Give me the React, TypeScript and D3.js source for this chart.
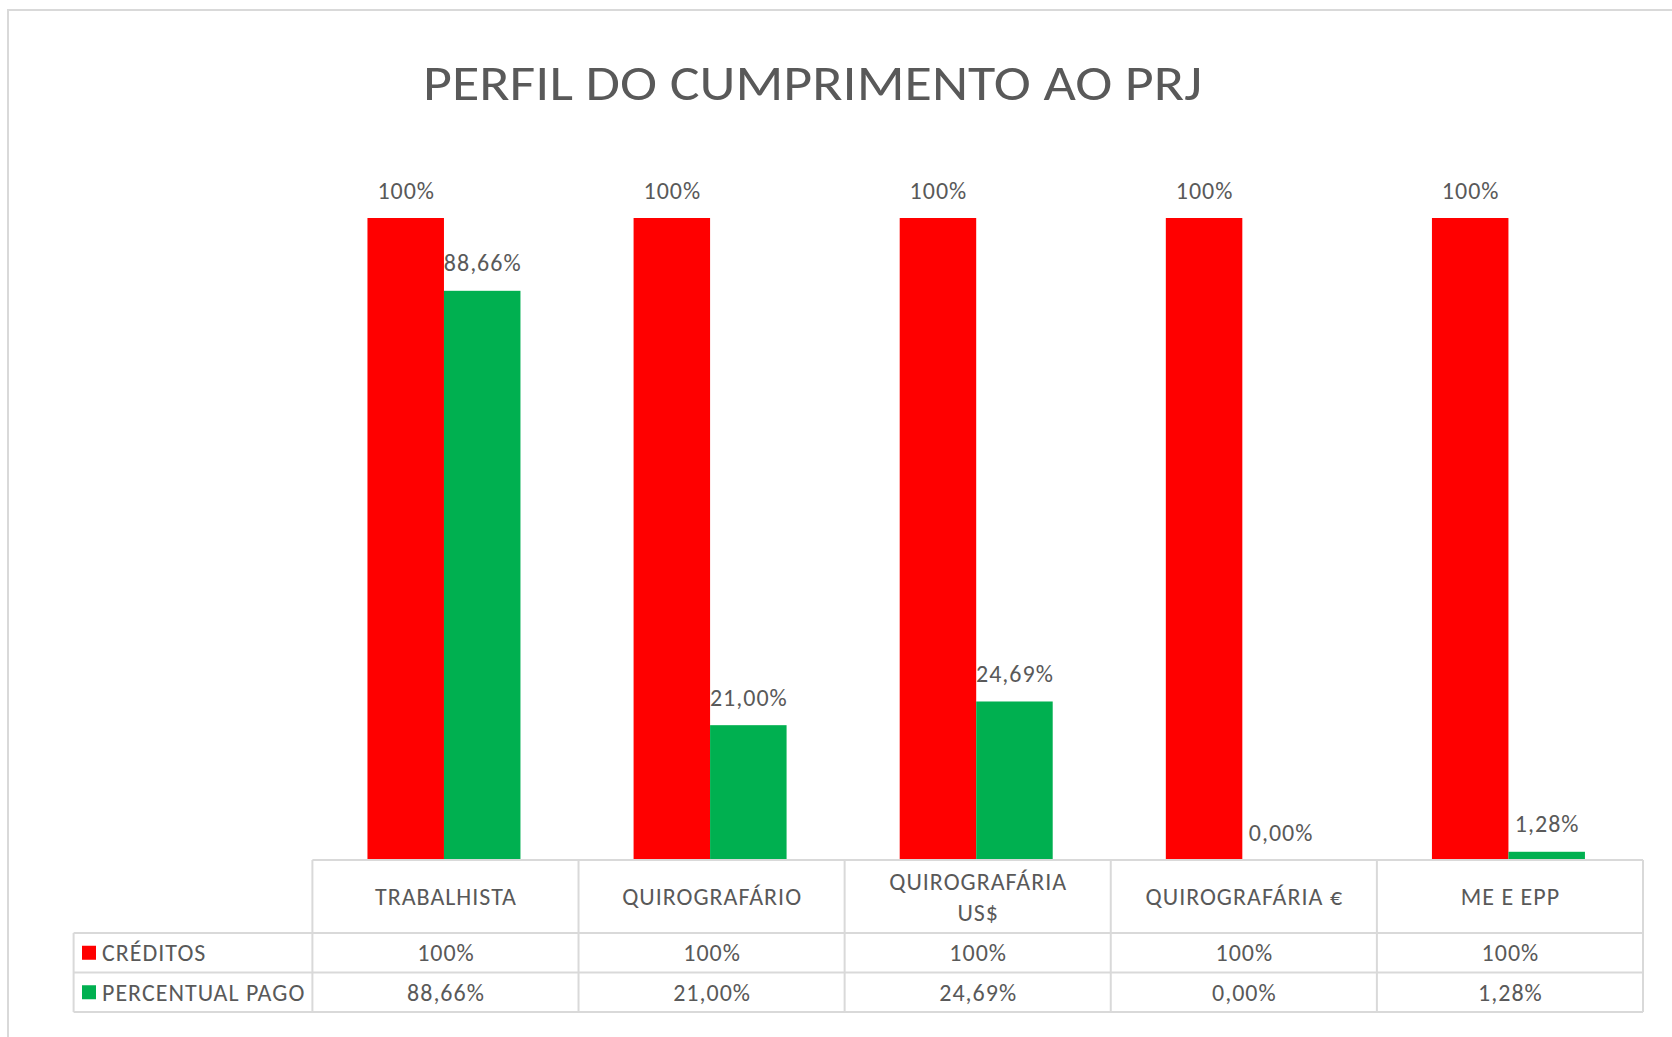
import * as d3 from "d3";
import { useEffect, useRef } from "react";

const title = "PERFIL DO CUMPRIMENTO AO PRJ";
const categories = ["TRABALHISTA", "QUIROGRAFÁRIO", "QUIROGRAFÁRIA US$", "QUIROGRAFÁRIA €", "ME E EPP"];
const headerLines = [["TRABALHISTA"], ["QUIROGRAFÁRIO"], ["QUIROGRAFÁRIA", "US$"], ["QUIROGRAFÁRIA €"], ["ME E EPP"]];
const seriesNames = ["CRÉDITOS", "PERCENTUAL PAGO"];
const seriesColors = ["#ff0000", "#00b050"];
const creditos = [1, 1, 1, 1, 1];
const percentualPago = [0.8866, 0.21, 0.2469, 0, 0.0128];
const creditosLabels = ["100%", "100%", "100%", "100%", "100%"];
const pagoLabels = ["88,66%", "21,00%", "24,69%", "0,00%", "1,28%"];

type Bar = {
  category: string;
  series: string;
  value: number;
  label: string;
  color: string;
};

const FONT = "Carlito, Calibri, Lato, sans-serif";
const TEXT = "#595959";
const GRID = "#d9d9d9";
const SIZE = 24;
const SPACING = 1;

export default function App() {
  const svgRef = useRef<SVGSVGElement | null>(null);

  useEffect(() => {
    if (!svgRef.current) return;
    const svg = d3.select(svgRef.current);
    svg.selectAll("*").remove();

    const width = 1672;
    const height = 1037;
    const plot = { left: 312.4, right: 1643, top: 218, bottom: 860 };
    const headerH = 73;
    const rowH = 39.5;
    const legendLeft = 73.6;

    svg.attr("viewBox", `0 0 ${width} ${height}`);

    // chart frame
    svg
      .append("rect")
      .attr("x", 8)
      .attr("y", 10)
      .attr("width", width + 10)
      .attr("height", height + 10)
      .attr("fill", "#ffffff")
      .attr("stroke", GRID)
      .attr("stroke-width", 2);

    svg
      .append("text")
      .attr("x", 423)
      .attr("y", 100)
      .attr("font-family", FONT)
      .attr("font-size", 50)
      .attr("fill", TEXT)
      .attr("textLength", 779)
      .attr("lengthAdjust", "spacingAndGlyphs")
      .text(title);

    const x = d3.scaleBand<string>().domain(categories).range([plot.left, plot.right]);
    const inner = d3
      .scaleBand<string>()
      .domain(seriesNames)
      .range([0, 153])
      .padding(0);
    const groupOffset = (x.bandwidth() - 153) / 2 - 1.5;

    const y = d3.scaleLinear().domain([0, 1]).range([plot.bottom, plot.top]);

    const bars: Bar[] = [];
    categories.forEach((category, i) => {
      bars.push({ category, series: seriesNames[0], value: creditos[i], label: creditosLabels[i], color: seriesColors[0] });
      bars.push({ category, series: seriesNames[1], value: percentualPago[i], label: pagoLabels[i], color: seriesColors[1] });
    });

    const barX = (bar: Bar) => (x(bar.category) ?? 0) + groupOffset + (inner(bar.series) ?? 0);

    const stage = svg.append("g");

    stage
      .selectAll("rect")
      .data(bars)
      .join("rect")
      .attr("x", barX)
      .attr("y", (bar) => y(bar.value))
      .attr("width", inner.bandwidth())
      .attr("height", (bar) => plot.bottom - y(bar.value))
      .attr("fill", (bar) => bar.color);

    stage
      .selectAll(".bar-label")
      .data(bars)
      .join("text")
      .attr("x", (bar) => barX(bar) + inner.bandwidth() / 2 + SPACING / 2)
      .attr("y", (bar) => y(bar.value) - 19.5)
      .attr("text-anchor", "middle")
      .attr("font-family", FONT)
      .attr("font-size", SIZE)
      .attr("letter-spacing", SPACING)
      .attr("fill", TEXT)
      .text((bar) => bar.label);

    // data table
    const table = svg.append("g");
    const rowTop = plot.bottom + headerH;
    const tableBottom = rowTop + rowH * 2;

    const hLines = [
      { x1: plot.left, x2: plot.right, y: plot.bottom },
      { x1: legendLeft, x2: plot.right, y: rowTop },
      { x1: legendLeft, x2: plot.right, y: rowTop + rowH },
      { x1: legendLeft, x2: plot.right, y: tableBottom },
    ];
    table
      .selectAll(".hline")
      .data(hLines)
      .join("line")
      .attr("x1", (d) => d.x1)
      .attr("x2", (d) => d.x2)
      .attr("y1", (d) => d.y)
      .attr("y2", (d) => d.y)
      .attr("stroke", GRID)
      .attr("stroke-width", 2);

    const vxs = categories.map((c) => x(c) ?? 0).concat([plot.right]);
    table
      .selectAll(".vline")
      .data(vxs)
      .join("line")
      .attr("x1", (d) => d)
      .attr("x2", (d) => d)
      .attr("y1", plot.bottom)
      .attr("y2", tableBottom)
      .attr("stroke", GRID)
      .attr("stroke-width", 2);

    table
      .append("line")
      .attr("x1", legendLeft)
      .attr("x2", legendLeft)
      .attr("y1", rowTop)
      .attr("y2", tableBottom)
      .attr("stroke", GRID)
      .attr("stroke-width", 2);

    const cellText = (sel: d3.Selection<SVGGElement, unknown, null, undefined>, cx: number, cy: number, label: string) =>
      sel
        .append("text")
        .attr("x", cx + SPACING / 2)
        .attr("y", cy)
        .attr("text-anchor", "middle")
        .attr("font-family", FONT)
        .attr("font-size", SIZE)
        .attr("letter-spacing", SPACING)
        .attr("fill", TEXT)
        .text(label);

    categories.forEach((category, i) => {
      const lines = headerLines[i];
      const cx = (x(category) ?? 0) + x.bandwidth() / 2;
      const midY = plot.bottom + headerH / 2;
      lines.forEach((line, j) => {
        cellText(table, cx, midY + (j - (lines.length - 1) / 2) * 31 + 8.5, line);
      });
      [creditosLabels[i], pagoLabels[i]].forEach((label, j) => {
        cellText(table, cx, rowTop + rowH * j + rowH / 2 + 8.5, label);
      });
    });

    seriesNames.forEach((name, j) => {
      const cy = rowTop + rowH * j + rowH / 2;
      table
        .append("rect")
        .attr("x", 82)
        .attr("y", cy - 7)
        .attr("width", 14)
        .attr("height", 14)
        .attr("fill", seriesColors[j]);
      table
        .append("text")
        .attr("x", 102)
        .attr("y", cy + 8.5)
        .attr("font-family", FONT)
        .attr("font-size", SIZE)
        .attr("letter-spacing", SPACING)
        .attr("fill", TEXT)
        .text(name);
    });
  }, []);

  return (
    <svg
      ref={svgRef}
      width={1672}
      height={1037}
      style={{ position: "absolute", left: 0, top: 0, background: "#ffffff" }}
      aria-label="Perfil do cumprimento ao PRJ"
    />
  );
}
